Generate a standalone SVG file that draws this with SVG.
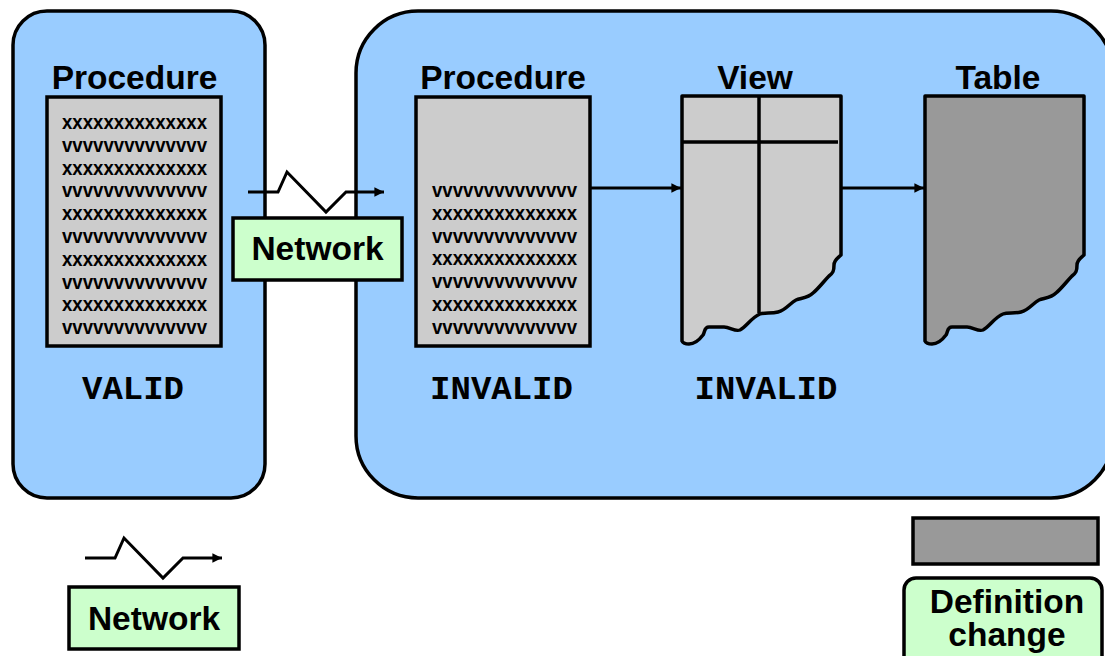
<svg xmlns="http://www.w3.org/2000/svg" width="1105" height="656" viewBox="0 0 1105 656">
  <defs>
    <marker id="arrow" viewBox="0 0 10 10" refX="10" refY="5" markerWidth="4" markerHeight="3.2" orient="auto" markerUnits="strokeWidth">
      <path d="M0,0 L10,5 L0,10 Z" fill="#000"/>
    </marker>
    <!-- torn-bottom table outline, anchored at its top-left corner -->
    <path id="torn" d="M0,0 H159 V159 C156,162 152,164 152,169 C152,175 151,177 147,180 C142,185 137,192 131,197 C126,202 119,202 114,204 C108,207 104,214 96,216 C89,218 83,216 78,218 C70,221 64,231 58,234 C53,236 48,231 42,231 H27 C22,231 23,236 21,239 C18,243 13,248 7,248 C4,248 1,247 0,245 Z"/>
  </defs>
  <style>
    .zone { fill: #99ccff; stroke: #000; stroke-width: 3.5; }
    .doc { fill: #cccccc; stroke: #000; stroke-width: 3.5; }
    .tbl { stroke: #000; stroke-width: 3.5; stroke-linejoin: round; }
    .grid { stroke: #000; stroke-width: 3.5; }
    .tag { fill: #ccffcc; stroke: #000; stroke-width: 3.5; }
    .title { font-family: "Liberation Sans", Arial, sans-serif; font-weight: bold; font-size: 33.5px; text-anchor: middle; fill: #000; }
    .code { font-family: "Liberation Sans", Arial, sans-serif; font-weight: bold; font-size: 20.5px; text-anchor: middle; fill: #000; }
    .state { font-family: "Liberation Mono", "Courier New", monospace; font-weight: bold; font-size: 34px; text-anchor: middle; fill: #000; }
    .link { fill: none; stroke: #000; stroke-width: 3; marker-end: url(#arrow); }
  </style>

  <!-- local database (left) -->
  <g id="local-db">
    <rect class="zone" x="13" y="11" width="252" height="487" rx="34"/>
  </g>

  <!-- remote database (right) -->
  <g id="remote-db">
    <rect class="zone" x="356" y="11" width="757" height="487" rx="62"/>
  </g>

  <!-- procedure on the local side -->
  <g id="local-procedure">
    <text class="title" x="134.5" y="89">Procedure</text>
    <rect class="doc" x="47" y="97" width="174" height="249"/>
    <g class="code">
      <text x="134.5" y="129" textLength="145" lengthAdjust="spacingAndGlyphs">xxxxxxxxxxxxxx</text>
      <text x="134.5" y="151.8" textLength="145" lengthAdjust="spacingAndGlyphs">vvvvvvvvvvvvvv</text>
      <text x="134.5" y="174.6" textLength="145" lengthAdjust="spacingAndGlyphs">xxxxxxxxxxxxxx</text>
      <text x="134.5" y="197.4" textLength="145" lengthAdjust="spacingAndGlyphs">vvvvvvvvvvvvvv</text>
      <text x="134.5" y="220.2" textLength="145" lengthAdjust="spacingAndGlyphs">xxxxxxxxxxxxxx</text>
      <text x="134.5" y="243" textLength="145" lengthAdjust="spacingAndGlyphs">vvvvvvvvvvvvvv</text>
      <text x="134.5" y="265.8" textLength="145" lengthAdjust="spacingAndGlyphs">xxxxxxxxxxxxxx</text>
      <text x="134.5" y="288.6" textLength="145" lengthAdjust="spacingAndGlyphs">vvvvvvvvvvvvvv</text>
      <text x="134.5" y="311.4" textLength="145" lengthAdjust="spacingAndGlyphs">xxxxxxxxxxxxxx</text>
      <text x="134.5" y="334.2" textLength="145" lengthAdjust="spacingAndGlyphs">vvvvvvvvvvvvvv</text>
    </g>
    <text class="state" x="133" y="399">VALID</text>
  </g>

  <!-- procedure on the remote side -->
  <g id="remote-procedure">
    <text class="title" x="503" y="89">Procedure</text>
    <rect class="doc" x="416" y="97" width="174" height="249"/>
    <g class="code">
      <text x="504.5" y="197" textLength="145" lengthAdjust="spacingAndGlyphs">vvvvvvvvvvvvvv</text>
      <text x="504.5" y="219.8" textLength="145" lengthAdjust="spacingAndGlyphs">xxxxxxxxxxxxxx</text>
      <text x="504.5" y="242.6" textLength="145" lengthAdjust="spacingAndGlyphs">vvvvvvvvvvvvvv</text>
      <text x="504.5" y="265.4" textLength="145" lengthAdjust="spacingAndGlyphs">xxxxxxxxxxxxxx</text>
      <text x="504.5" y="288.2" textLength="145" lengthAdjust="spacingAndGlyphs">vvvvvvvvvvvvvv</text>
      <text x="504.5" y="311" textLength="145" lengthAdjust="spacingAndGlyphs">xxxxxxxxxxxxxx</text>
      <text x="504.5" y="333.8" textLength="145" lengthAdjust="spacingAndGlyphs">vvvvvvvvvvvvvv</text>
    </g>
    <text class="state" x="501.5" y="399">INVALID</text>
  </g>

  <!-- view -->
  <g id="view">
    <text class="title" x="755" y="89">View</text>
    <use href="#torn" x="682" y="96" class="tbl" fill="#cccccc"/>
    <line class="grid" x1="682" y1="142" x2="838" y2="142"/>
    <line class="grid" x1="759" y1="96" x2="759" y2="313"/>
    <text class="state" x="766" y="399">INVALID</text>
  </g>

  <!-- table -->
  <g id="table">
    <text class="title" x="998" y="89">Table</text>
    <use href="#torn" x="925" y="96" class="tbl" fill="#999999"/>
  </g>

  <!-- network link between the two databases -->
  <g id="network-link">
    <rect class="tag" x="233" y="218" width="169" height="62"/>
    <text class="title" x="317.5" y="260">Network</text>
  </g>

  <!-- legend: network symbol -->
  <g id="legend-network">
    <rect class="tag" x="69" y="587" width="170" height="62"/>
    <text class="title" x="154" y="630">Network</text>
  </g>

  <!-- legend: definition change -->
  <g id="legend-change">
    <rect x="913" y="518" width="185" height="46" fill="#999999" stroke="#000" stroke-width="3.5"/>
    <rect class="tag" x="904" y="578" width="198" height="95" rx="12"/>
    <text class="title" x="1007" y="613">Definition</text>
    <text class="title" x="1007" y="646">change</text>
  </g>

  <!-- connectors -->
  <g id="connectors">
    <path class="link" d="M248,192 H278 L287,172 L326,212 L346,192 H384"/>
    <path class="link" d="M85,558 H115 L124,538 L163,578 L183,558 H222"/>
    <line class="link" x1="590" y1="188" x2="681" y2="188"/>
    <line class="link" x1="842" y1="188" x2="924" y2="188"/>
  </g>
</svg>
